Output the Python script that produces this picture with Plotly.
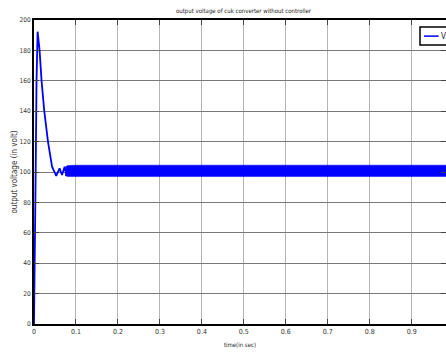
import plotly.graph_objects as go

# transient part of the output voltage (time in s, volts)
t_trans = [0.0, 0.002, 0.004, 0.006, 0.0086, 0.0133, 0.018, 0.0245, 0.0333, 0.043, 0.053,
           0.061, 0.0667, 0.073, 0.077]
v_trans = [0.0, 40.0, 100.0, 160.0, 192.3, 180.0, 160.0, 140.0, 120.0, 103.5, 97.4,
           102.4, 98.0, 103.5, 97.5]

# steady-state ripple band (upper / lower envelope)
t_band = [0.075, 0.08, 0.1, 0.2, 0.3, 0.4, 0.5, 0.6, 0.7, 0.8, 0.9, 0.99]
v_band_hi = [103.5, 104.2, 104.5, 104.5, 104.5, 104.5, 104.5, 104.5, 104.5, 104.5, 104.5, 104.5]
v_band_lo = [97.5, 97.0, 97.0, 97.0, 97.0, 97.0, 97.0, 97.0, 97.0, 97.0, 97.0, 97.0]

x_ticks = [0, 0.1, 0.2, 0.3, 0.4, 0.5, 0.6, 0.7, 0.8, 0.9]
x_tick_text = ["0", "0.1", "0.2", "0.3", "0.4", "0.5", "0.6", "0.7", "0.8", "0.9"]
y_ticks = [0, 20, 40, 60, 80, 100, 120, 140, 160, 180, 200]
series_name = "V"

FONT = "DejaVu Sans Condensed, Liberation Sans Narrow, Liberation Sans, Arial, sans-serif"
BLUE = "#0000ff"

fig = go.Figure()
fig.add_trace(go.Scatter(x=t_band, y=v_band_lo, mode="lines", line=dict(color=BLUE, width=0.5),
                         showlegend=False, hoverinfo="skip"))
fig.add_trace(go.Scatter(x=t_band, y=v_band_hi, mode="lines", line=dict(color=BLUE, width=0.5),
                         fill="tonexty", fillcolor=BLUE, showlegend=False, hoverinfo="skip"))
fig.add_trace(go.Scatter(x=t_trans, y=v_trans, mode="lines", name=series_name,
                         line=dict(color=BLUE, width=1.8), showlegend=False))

# legend box (partly outside the visible area, as in the reference)
fig.add_shape(type="rect", xref="paper", yref="paper", x0=0.9369, x1=1.03, y0=0.918, y1=0.977,
              line=dict(color="black", width=1.5), fillcolor="white", layer="above")
fig.add_shape(type="line", xref="paper", yref="paper", x0=0.9466, x1=0.982, y0=0.947, y1=0.947,
              line=dict(color=BLUE, width=1.5), layer="above")
fig.add_annotation(text=series_name, xref="paper", yref="paper", x=0.984, y=0.947,
                   xanchor="left", yanchor="middle", showarrow=False,
                   font=dict(family=FONT, size=8, color="#222"))

fig.update_layout(
    width=446, height=353,
    margin=dict(l=34, r=0, t=20, b=29, autoexpand=False),
    paper_bgcolor="white", plot_bgcolor="white",
    font=dict(family=FONT, size=8, color="#222"),
    title=dict(text="output voltage of cuk converter without controller",
               x=0.5085, xref="paper", xanchor="center", y=1 - 10.5 / 353, yanchor="middle",
               font=dict(family=FONT, size=6, color="#222")),
    showlegend=False,
)
fig.update_xaxes(
    range=[0, 0.9817], tickvals=x_ticks, ticktext=x_tick_text,
    showgrid=True, gridcolor="#b4b4b4", gridwidth=1,
    showline=True, linecolor="black", linewidth=2, mirror="ticks",
    ticks="inside", ticklen=5, tickcolor="#444", tickwidth=1,
    zeroline=False, automargin=False,
    title=dict(text="time(in sec)", font=dict(family=FONT, size=6, color="#222"), standoff=7),
    tickfont=dict(family=FONT, size=7, color="#333"),
)
fig.update_yaxes(
    range=[0, 200], tickvals=y_ticks,
    showgrid=True, gridcolor="#7a7a7a", gridwidth=1,
    showline=True, linecolor="black", linewidth=2, mirror="ticks",
    ticks="inside", ticklen=5, tickcolor="#444", tickwidth=1,
    zeroline=False, automargin=False,
    title=dict(text="output voltage (in volt)", font=dict(family=FONT, size=8, color="#333"), standoff=1),
    tickfont=dict(family=FONT, size=6.5, color="#333"),
)

fig.write_html("out.html", config={"displayModeBar": False},
               post_script="document.body.style.margin='0';")
